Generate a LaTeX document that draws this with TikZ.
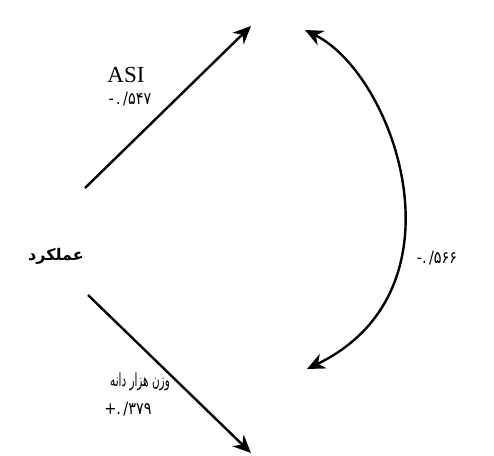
\documentclass[tikz,border=0pt]{standalone}
\usepackage{fontspec}
\setmainfont{Liberation Serif}
\newfontfamily\persianfont[Script=Arabic]{DejaVu Sans}
\newfontfamily\digitfont{DejaVu Sans}
\TeXXeTstate=1
\usetikzlibrary{arrows.meta}

\begin{document}
\begin{tikzpicture}[x = 0.5pt, y = -0.5pt]
	\tikzstyle{pathStyle} = [line width = 1.2pt, -{Stealth[length = 9pt, width = 8pt]}]
	\tikzstyle{bothStyle} = [line width = 1.2pt, {Stealth[length = 9pt, width = 8pt]}-{Stealth[length = 9pt, width = 8pt]}]
	\tikzstyle{coefStyle} = [inner sep = 0pt, xscale = 0.85, transform shape, font = \digitfont\fontsize{8.5}{9}\selectfont]
	\tikzstyle{faStyle} = [inner sep = 0pt, xscale = 0.58, transform shape, font = \persianfont\fontsize{9}{10}\selectfont]
	\useasboundingbox (0, 0) rectangle (494, 456);
	\node[inner sep = 0pt, font = \persianfont\bfseries\fontsize{8}{9}\selectfont] (yld) at (56, 256) {\beginR عملکرد\endR};
	\node[inner sep = 0pt, font = \fontsize{11.5}{13}\selectfont] (asi) at (126, 75) {ASI};
	\node[coefStyle] (asiCoef) at (130, 99) {-\,.\,/۵۴۷};
	\node[coefStyle] (tkwCoef) at (128, 409) {+.\,/۳۷۹};
	\node[coefStyle] (corCoef) at (437, 258) {-.\,/۵۶۶};
	\node[faStyle] (tkw) at (140, 382) {\beginR وزن هزار دانه\endR};
	\coordinate (asiStart) at (85, 188);
	\coordinate (asiEnd) at (251, 26);
	\coordinate (tkwStart) at (88, 295);
	\coordinate (tkwEnd) at (251, 453);
	\coordinate (corTop) at (305, 30);
	\coordinate (corBot) at (307, 369);
	\draw[pathStyle] (asiStart) -- (asiEnd);
	\draw[pathStyle] (tkwStart) -- (tkwEnd);
	\draw[bothStyle] (corTop) .. controls (395, 75) and (470, 290) .. (corBot);
\end{tikzpicture}
\end{document}
